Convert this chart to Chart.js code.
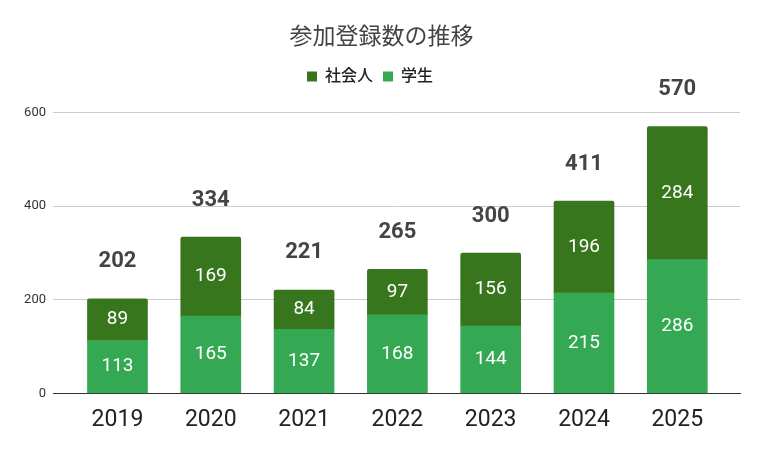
<!DOCTYPE html>
<html>
<head>
<meta charset="utf-8">
<script src="https://cdn.jsdelivr.net/npm/chart.js@4"></script>
<style>
  html, body { margin: 0; padding: 0; background: #fff; }
  canvas { display: block; }
</style>
</head>
<body>
<canvas id="chart" width="763" height="456"></canvas>
<script>
const years = [2019, 2020, 2021, 2022, 2023, 2024, 2025];
const students = [113, 165, 137, 168, 144, 215, 286];
const workers = [89, 169, 84, 97, 156, 196, 284];
const yTicks = [0, 200, 400, 600];

const FONT = "Roboto, 'Noto Sans CJK JP', sans-serif";

// push the plot down a bit below the legend, and recentre the title on the page
const layoutTweaks = {
    id: "layoutTweaks",
    beforeInit(chart) {
        const fit = chart.legend.fit;
        chart.legend.fit = function () {
            fit.bind(chart.legend)();
            this.height += 18;
        };
    },
    afterLayout(chart) {
        chart.titleBlock.left += 23;
    }
};

// numbers inside the bars and totals on top
const valueLabels = {
    id: "valueLabels",
    afterDatasetsDraw(chart) {
        const ctx = chart.ctx;
        ctx.save();
        ctx.textAlign = "center";
        ctx.textBaseline = "middle";
        ctx.fillStyle = "#fff";
        ctx.font = "19px " + FONT;
        chart.data.datasets.forEach((ds, di) => {
            chart.getDatasetMeta(di).data.forEach((bar, i) => {
                ctx.fillText(ds.data[i], bar.x, (bar.y + bar.base) / 2);
            });
        });
        const top = chart.getDatasetMeta(chart.data.datasets.length - 1).data;
        ctx.fillStyle = "#444";
        ctx.font = "bold 22px " + FONT;
        top.forEach((bar, i) => {
            ctx.fillText(students[i] + workers[i], bar.x, bar.y - 37);
        });
        ctx.restore();
    }
};

new Chart(document.getElementById("chart"), {
    type: "bar",
    data: {
        labels: years,
        datasets: [
            {
                label: "学生",
                data: students,
                backgroundColor: "#34a853",
                borderWidth: 0,
                barThickness: 60
            },
            {
                label: "社会人",
                data: workers,
                backgroundColor: "#38761d",
                borderWidth: 0,
                borderRadius: 2,
                barThickness: 60
            }
        ]
    },
    options: {
        responsive: false,
        animation: false,
        layout: { padding: { left: 0, right: 23, top: 0, bottom: 9 } },
        plugins: {
            title: {
                display: true,
                text: "参加登録数の推移",
                color: "#444",
                font: { family: FONT, size: 23, weight: "normal" },
                padding: { top: 24, bottom: 7 }
            },
            legend: {
                reverse: true,
                labels: {
                    boxWidth: 10,
                    boxHeight: 10,
                    padding: 10,
                    color: "#222",
                    font: { family: FONT, size: 16, weight: "500" }
                }
            },
            tooltip: { enabled: false }
        },
        scales: {
            x: {
                type: "linear",
                offset: false,
                stacked: true,
                min: 2018.309,
                max: 2025.672,
                afterBuildTicks: s => { s.ticks = years.map(v => ({ value: v })); },
                grid: { display: false, drawTicks: false },
                border: { color: "#333", width: 1 },
                ticks: {
                    callback: v => String(v),
                    color: "#222",
                    font: { family: FONT, size: 23 },
                    padding: 13,
                    autoSkip: false,
                    maxRotation: 0
                }
            },
            y: {
                stacked: true,
                min: 0,
                max: 600,
                afterBuildTicks: s => { s.ticks = yTicks.map(v => ({ value: v })); },
                afterFit: s => { s.width = 53; },
                grid: { color: "#ccc", drawTicks: false },
                border: { display: false },
                ticks: {
                    color: "#333",
                    font: { family: FONT, size: 13 },
                    padding: 7
                }
            }
        }
    },
    plugins: [layoutTweaks, valueLabels]
});
</script>
</body>
</html>
